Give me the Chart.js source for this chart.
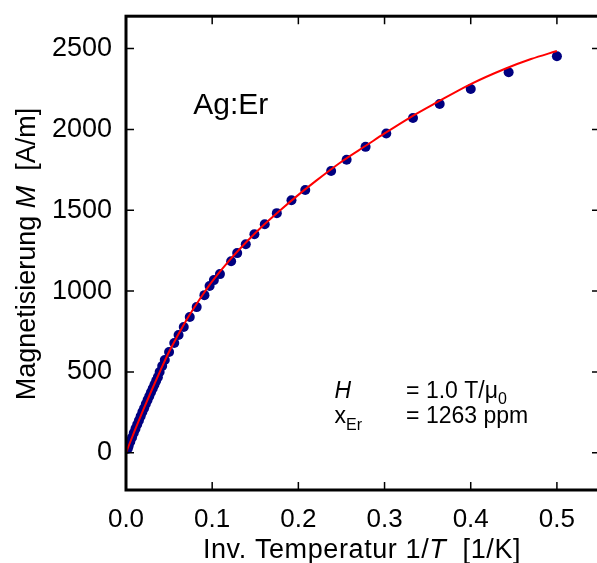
<!DOCTYPE html>
<html>
<head>
<meta charset="utf-8">
<script src="https://cdn.jsdelivr.net/npm/chart.js@4"></script>
<style>
    body { margin: 0; overflow: hidden; background: #fff; }
</style>
</head>
<body>
<canvas id="chart" width="605" height="563"></canvas>
<script>
// measured points: inverse temperature [1/K] and magnetisation [A/m]
var invT = [0.002, 0.003, 0.005, 0.007, 0.009, 0.011, 0.013, 0.015, 0.017, 0.019, 0.021, 0.023,
            0.025, 0.027, 0.029, 0.031, 0.033, 0.035, 0.037, 0.039, 0.042, 0.045, 0.050, 0.056, 0.061,
            0.067, 0.074, 0.082, 0.091, 0.097, 0.102, 0.109, 0.122, 0.129, 0.139, 0.149, 0.161,
            0.175, 0.192, 0.208, 0.238, 0.256, 0.278, 0.302, 0.333, 0.364, 0.400, 0.444, 0.500];
var magnet = [25, 40, 68, 95, 122, 148, 175, 200, 226, 252, 276, 302,
              326, 350, 374, 398, 421, 445, 468, 500, 537, 574, 623, 679, 728,
              778, 840, 901, 975, 1031, 1068, 1105, 1185, 1235, 1290, 1352, 1413,
              1482, 1562, 1625, 1743, 1812, 1892, 1975, 2070, 2157, 2250, 2353, 2452];

// fitted curve
var fitInvT = [0, 0.01, 0.02, 0.03, 0.04, 0.05, 0.06, 0.07, 0.08, 0.09, 0.10, 0.12, 0.14,
               0.16, 0.18, 0.20, 0.22, 0.25, 0.28, 0.30, 0.33, 0.36, 0.40, 0.44, 0.47, 0.50];
var fitMagnet = [0, 135, 265, 390, 510, 625, 725, 820, 905, 985, 1060, 1190, 1305,
                 1410, 1505, 1595, 1680, 1800, 1905, 1975, 2075, 2165, 2280, 2375, 2435, 2485];

var xTicks = [0, 0.1, 0.2, 0.3, 0.4, 0.5];
var yTicks = [0, 500, 1000, 1500, 2000, 2500];

var FONT = '"Liberation Sans", Arial, Helvetica, sans-serif';

function toPoints(xs, ys)
{
    return xs.map(function(x, i) { return { x: x, y: ys[i] }; });
}

// draw a line of text made of pieces with their own font and vertical shift
function drawRich(ctx, parts, x, y)
{
    parts.forEach(function(p) {
        ctx.font = p[1];
        ctx.fillText(p[0], x, y + (p[2] || 0));
        x += ctx.measureText(p[0]).width;
    });
}

function richWidth(ctx, parts)
{
    var w = 0;
    parts.forEach(function(p) {
        ctx.font = p[1];
        w += ctx.measureText(p[0]).width;
    });
    return w;
}

var frameAndText = {
    id: 'frameAndText',
    afterDatasetsDraw: function(chart) {
        var ctx = chart.ctx;
        var a = chart.chartArea;
        var xs = chart.scales.x, ys = chart.scales.y;
        var tick = 8;
        ctx.save();
        ctx.strokeStyle = '#000';
        ctx.lineWidth = 1.5;
        ctx.beginPath();
        xTicks.forEach(function(v) {
            var px = xs.getPixelForValue(v);
            ctx.moveTo(px, a.bottom); ctx.lineTo(px, a.bottom - tick);
            ctx.moveTo(px, a.top);    ctx.lineTo(px, a.top + tick);
        });
        yTicks.forEach(function(v) {
            var py = ys.getPixelForValue(v);
            ctx.moveTo(a.left, py);  ctx.lineTo(a.left + tick, py);
            ctx.moveTo(a.right, py); ctx.lineTo(a.right - tick, py);
        });
        ctx.stroke();
        ctx.lineWidth = 3;
        ctx.strokeRect(a.left, a.top, a.right - a.left, a.bottom - a.top);

        ctx.fillStyle = '#000';
        ctx.textAlign = 'left';
        ctx.textBaseline = 'alphabetic';

        // axis titles
        var xTitle = [['Inv. Temperatur 1/', '27px ' + FONT], ['T', 'italic 27px ' + FONT], ['  [1/K]', '27px ' + FONT]];
        ctx.letterSpacing = '0.6px';
        drawRich(ctx, xTitle, 362 - richWidth(ctx, xTitle) / 2, 558);
        ctx.letterSpacing = '0px';

        var yTitle = [['Magnetisierung ', '27px ' + FONT], ['M', 'italic 27px ' + FONT], ['  [A/m]', '27px ' + FONT]];
        ctx.save();
        ctx.translate(35, 254);
        ctx.rotate(-Math.PI / 2);
        drawRich(ctx, yTitle, -richWidth(ctx, yTitle) / 2, 0);
        ctx.restore();

        // labels inside the plot
        ctx.font = '30px ' + FONT;
        ctx.fillText('Ag:Er', xs.getPixelForValue(0.078), ys.getPixelForValue(2093));

        var x1 = xs.getPixelForValue(0.242), x2 = xs.getPixelForValue(0.325);
        var yH = ys.getPixelForValue(340), yX = ys.getPixelForValue(185);
        drawRich(ctx, [['H', 'italic 23px ' + FONT]], x1, yH);
        drawRich(ctx, [['= 1.0 T/\u03bc', '23px ' + FONT], ['0', '16px ' + FONT, 6]], x2, yH);
        drawRich(ctx, [['x', '23px ' + FONT], ['Er', '16px ' + FONT, 7]], x1, yX);
        drawRich(ctx, [['= 1263 ppm', '23px ' + FONT]], x2, yX);
        ctx.restore();
    }
};

// invisible tick marks only reserve the gap between labels and frame
var hiddenGrid = {
    display: true,
    drawOnChartArea: false,
    drawTicks: true,
    tickColor: 'rgba(0, 0, 0, 0)'
};

new Chart(document.getElementById('chart'), {
    type: 'scatter',
    data: {
        datasets: [{
            label: 'Fit',
            data: toPoints(fitInvT, fitMagnet),
            showLine: true,
            borderColor: 'rgb(255, 0, 0)',
            borderWidth: 2,
            pointRadius: 0,
            cubicInterpolationMode: 'monotone',
            order: 0
        }, {
            label: 'Messung',
            data: toPoints(invT, magnet),
            backgroundColor: 'rgb(0, 0, 128)',
            borderWidth: 0,
            pointRadius: 5,
            order: 1
        }]
    },
    options: {
        responsive: false,
        animation: false,
        events: [],
        layout: { padding: { left: 0, right: 4, top: 0, bottom: 0 } },
        plugins: { legend: { display: false }, tooltip: { enabled: false } },
        scales: {
            x: {
                type: 'linear',
                min: 0,
                max: 0.55,
                afterBuildTicks: function(scale) {
                    scale.ticks = xTicks.map(function(v) { return { value: v }; });
                },
                afterFit: function(scale) { scale.height = 73; },
                grid: Object.assign({ tickLength: 14 }, hiddenGrid),
                border: { display: false },
                ticks: {
                    color: '#000',
                    padding: 0,
                    maxRotation: 0,
                    font: { family: FONT, size: 26 },
                    callback: function(v) { return v.toFixed(1); }
                }
            },
            y: {
                type: 'linear',
                min: -230,
                max: 2700,
                afterBuildTicks: function(scale) {
                    scale.ticks = yTicks.map(function(v) { return { value: v }; });
                },
                afterFit: function(scale) { scale.width = 126; },
                grid: Object.assign({ tickLength: 14 }, hiddenGrid),
                border: { display: false },
                ticks: {
                    color: '#000',
                    padding: 0,
                    font: { family: FONT, size: 27, lineHeight: 1.2 },
                    callback: function(v) { return String(v); }
                }
            }
        }
    },
    plugins: [frameAndText]
});
</script>
</body>
</html>
